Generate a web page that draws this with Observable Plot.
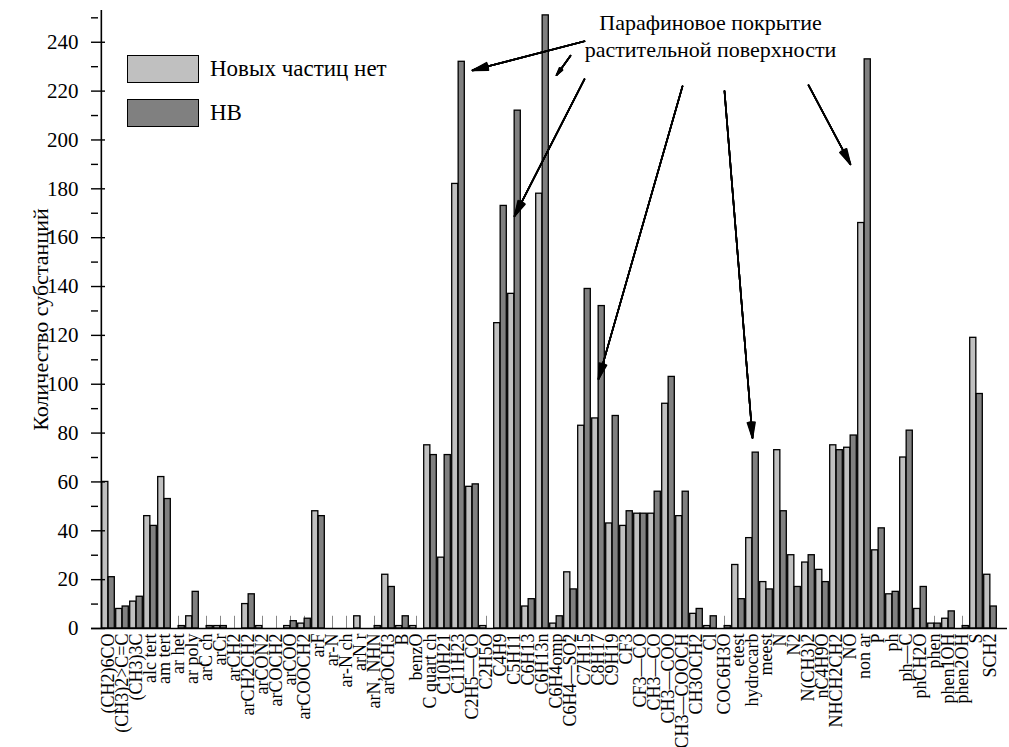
<!DOCTYPE html>
<html><head><meta charset="utf-8">
<script src="https://cdn.jsdelivr.net/npm/d3@7"></script>
<script src="https://cdn.jsdelivr.net/npm/@observablehq/plot@0.6"></script>
<style>
body{margin:0;background:#fff;}
#wrap{position:relative;width:1009px;height:747px;overflow:hidden;font-family:"Liberation Serif",serif;}
.leg{position:absolute;left:127px;width:70px;height:26px;border:1.5px solid #000;}
.legt{position:absolute;left:210px;font-size:23px;line-height:28px;white-space:nowrap;color:#000;}
</style></head><body><div id="wrap"></div>
<script>
// ---- data ----
const categories = ["(CH2)6CO","(CH3)2>C=C","(CH3)3C","alc tert","am tert","ar het","ar poly","arC ch","arCr","arCH2",
  "arCH2CH2","arCON2","arCOCH2","arCOO","arCOOCH2","arF","ar-N","ar-N ch","arN r","arN, NHN",
  "arOCH3","B","benzO","C quart ch","C10H21","C11H23","C2H5—CO","C2H5O","C4H9","C5H11",
  "C6H13","C6H13n","C6H4omp","C6H4—SO2","C7H15","C8H17","C9H19","CF3","CF3—CO","CH3—CO",
  "CH3—COO","CH3—COOCH","CH3OCH2","Cl","COC6H3O","etest","hydrocarb","meest","N","N2",
  "N(CH3)2","nC4H9O","NHCH2CH2","NO","non ar","P","ph","ph—C","phCH2O","phen",
  "phen1OH","phen2OH","S","SCH2"];
const noNewParticles = [60,8,11,46,62,0,5,0,1,0,
  10,1,0,1,2,48,0,0,5,0,
  22,1,1,75,29,182,58,1,125,137,
  9,178,2,23,83,86,43,42,47,47,
  92,46,6,1,0,26,37,19,73,30,
  27,24,75,74,166,32,14,70,8,2,
  4,0,119,22];
const hb = [21,9,13,42,53,1,15,1,1,0,
  14,0,0,3,4,46,0,0,0,1,
  17,5,0,71,71,232,59,0,173,212,
  12,251,5,16,139,132,87,48,47,56,
  103,56,8,5,1,12,72,16,48,17,
  30,19,73,79,233,41,15,81,17,2,
  7,1,96,9];
const seriesNames = ["Новых частиц нет", "НВ"];
const seriesColors = ["#c0c0c0", "#808080"];
const yTicks = [0,20,40,60,80,100,120,140,160,180,200,220,240];
const yMinorTicks = [10,30,50,70,90,110,130,150,170,190,210,230,250];
const yLabel = "Количество субстанций";
const noteText = "Парафиновое покрытие\nрастительной поверхности";
const noteAt = {cat: "Cl", value: 243};
const arrowsData = [
  {fromCat: "C7H15", fromVal: 240.4, toCat: "C2H5—CO", toVal: 228.5},
  {fromCat: "C6H4—SO2", fromVal: 234.5, toCat: "C6H4omp", toVal: 226.5},
  {fromCat: "C7H15", fromVal: 224.9, toCat: "C5H11", toVal: 168.8},
  {fromCat: "CH3—COOCH", fromVal: 222, toCat: "C8H17", toVal: 102.1},
  {fromCat: "COC6H3O", fromVal: 220, toCat: "hydrocarb", toVal: 78},
  {fromCat: "N(CH3)2", fromVal: 222.4, toCat: "NO", toVal: 190}
];

// ---- layout ----
const W = 1009, H = 747, mL = 91, mR = 2, mT = 10, mB = 119;
const plotW = W - mL - mR;
const step = plotW / categories.length;
const half = step / 2;
const FONT = "Liberation Serif, serif";

const rows = categories.map((c, i) => ({cat: c, a: noNewParticles[i], b: hb[i]}));

const arrowMarks = [28, 21, 14, 8, 3].map(a => Plot.arrow(arrowsData, {
  x1: "fromCat", y1: "fromVal", x2: "toCat", y2: "toVal",
  stroke: "#000", strokeWidth: 1.6, headLength: 15, headAngle: a
}));

const chart = Plot.plot({
  width: W, height: H,
  marginLeft: mL, marginRight: mR, marginTop: mT, marginBottom: mB,
  style: {fontFamily: FONT, fontSize: "20px", background: "#fff", color: "#000"},
  x: {type: "band", domain: categories, padding: 0},
  y: {domain: [0, 253]},
  marks: [
    Plot.ruleX(categories, {x: d => d, y1: 0, y2: 5, stroke: "#888", strokeWidth: 1}),
    Plot.barY(rows, {x: "cat", y: "a", fill: seriesColors[0], stroke: "#000", strokeWidth: 1.3, insetLeft: 0.7, insetRight: half}),
    Plot.barY(rows, {x: "cat", y: "b", fill: seriesColors[1], stroke: "#000", strokeWidth: 1.3, insetLeft: half, insetRight: 0.7}),
    Plot.ruleY([0], {stroke: "#000", strokeWidth: 1.6}),
    Plot.ruleX([categories[0]], {dx: -half, stroke: "#000", strokeWidth: 1.6}),
    Plot.ruleY(yTicks, {insetRight: plotW - 14, stroke: "#000", strokeWidth: 1.4}),
    Plot.ruleY(yMinorTicks, {insetRight: plotW - 7, stroke: "#000", strokeWidth: 1.4}),
    Plot.axisY({ticks: yTicks, tickSize: 0, tickPadding: 13, fontSize: 21, label: null}),
    Plot.text([yLabel], {frameAnchor: "left", textAnchor: "middle", rotate: -90, dx: -51, text: d => d, fontSize: 22, fill: "#000"}),
    Plot.axisX({tickSize: 0, tickPadding: 5, tickRotate: -90, fontSize: 18, label: null}),
    ...arrowMarks,
    Plot.text([noteAt], {x: "cat", y: "value", text: () => noteText, fontSize: 22, lineHeight: 1.25, fill: "#000"})
  ]
});

const wrap = document.getElementById("wrap");
wrap.appendChild(chart);
const legTops = [55, 99];
seriesNames.forEach((name, i) => {
  const box = document.createElement("div");
  box.className = "leg";
  box.style.top = legTops[i] + "px";
  box.style.background = seriesColors[i];
  wrap.appendChild(box);
  const t = document.createElement("div");
  t.className = "legt";
  t.style.top = legTops[i] + "px";
  t.textContent = name;
  wrap.appendChild(t);
});
</script>
</body></html>
